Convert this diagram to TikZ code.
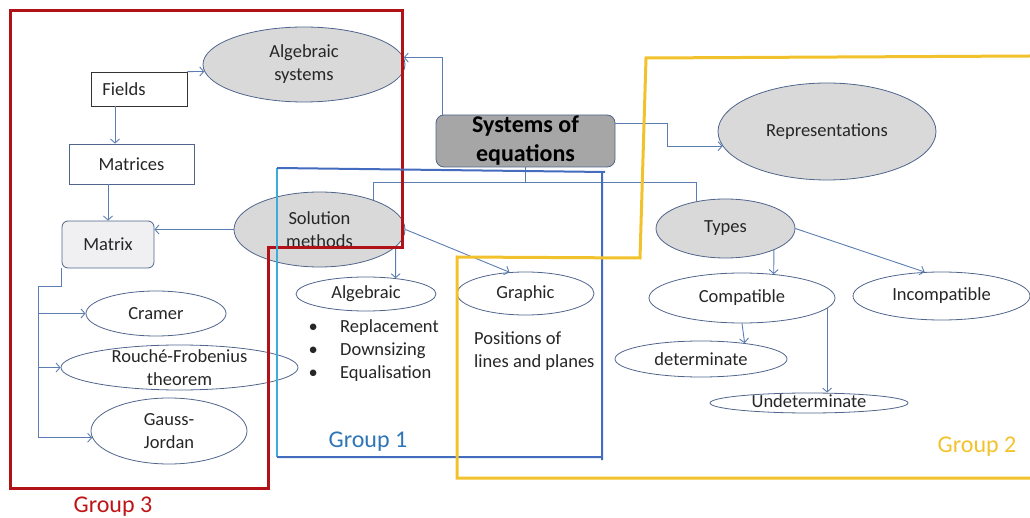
\documentclass[tikz,border=0pt]{standalone}
\usepackage{fontspec}
\setmainfont{Carlito}
\usetikzlibrary{shapes.geometric,arrows.meta}
\definecolor{lnk}{RGB}{91,125,178}
\definecolor{edge}{RGB}{80,100,140}
\definecolor{fillg}{RGB}{217,217,217}
\definecolor{filld}{RGB}{166,166,166}
\definecolor{fillm}{RGB}{240,240,243}
\definecolor{grpred}{RGB}{176,18,24}
\definecolor{grpcyan}{RGB}{60,172,218}
\definecolor{grpblue}{RGB}{68,108,190}
\definecolor{grpyel}{RGB}{242,194,44}
\definecolor{txtred}{RGB}{192,20,20}
\definecolor{txtblue}{RGB}{46,117,182}
\definecolor{txt}{RGB}{38,38,38}
\newcommand{\nodefont}{\fontsize{18.5}{23}\selectfont}
\newcommand{\grpfont}{\fontsize{24}{29}\selectfont}

\begin{document}
\begin{tikzpicture}[x=1pt,y=-1pt,>={Straight Barb[length=4pt,width=9pt]},
  every node/.style={font=\nodefont,text=txt},
  every label/.style={align=center,inner sep=0pt},
  oval/.style={ellipse,draw=edge,line width=0.8pt,inner sep=0pt},
  grayoval/.style={oval,fill=fillg},
  box/.style={rectangle,draw=edge,line width=0.8pt,inner sep=0pt},
  link/.style={draw=lnk,line width=0.9pt},
  frame/.style={line width=3pt}]
   \useasboundingbox (0,0) rectangle (1030,518);
   % group 3 side
   \node[grayoval,minimum width=202,minimum height=75,label={center:Algebraic\\systems}] (algsys) at (304,64.5) {};
   \node[box,draw=black!80,minimum width=96,minimum height=34,label={[xshift=-15]center:Fields}] (fields) at (139,89) {};
   \node[box,minimum width=125,minimum height=40,label={center:Matrices}] (matrices) at (131.5,164) {};
   \node[box,rounded corners=6,fill=fillm,minimum width=92,minimum height=47,label={center:Matrix}] (mtx) at (108,244.5) {};
   \node[grayoval,minimum width=171,minimum height=75,label={center:Solution\\methods}] (solm) at (319.5,229.5) {};
   \node[oval,minimum width=140,minimum height=45,label={center:Cramer}] (cramer) at (156,313.5) {};
   \node[oval,minimum width=237,minimum height=45,label={center:Rouché-Frobenius\\theorem}] (rouche) at (179.5,367.5) {};
   \node[oval,minimum width=156,minimum height=66,label={center:Gauss-\\Jordan}] (gauss) at (169,431) {};
   % centre
   \node[box,rounded corners=8,fill=filld,minimum width=179,minimum height=52,
     label={[font=\grpfont\bfseries,text=black]center:Systems of\\equations}] (sys) at (525.5,141) {};
   \node[oval,minimum width=140,minimum height=34,label={center:Algebraic}] (algebr) at (366,294) {};
   \node[oval,minimum width=137,minimum height=43,label={center:Graphic}] (graphic) at (525.5,293.5) {};
   \node[anchor=west,align=left,inner sep=0pt] (algsteps) at (308.5,351)
     {\makebox[31.5pt][l]{\textbullet}Replacement\\\makebox[31.5pt][l]{\textbullet}Downsizing\\\makebox[31.5pt][l]{\textbullet}Equalisation};
   \node[anchor=west,align=left,inner sep=0pt] (gphtext) at (474,351.5) {Positions of\\lines and planes};
   % group 2 side
   \node[grayoval,minimum width=218,minimum height=97,label={center:Representations}] (rep) at (827,131.5) {};
   \node[grayoval,minimum width=139,minimum height=59,label={center:Types}] (types) at (725.5,228.5) {};
   \node[oval,minimum width=186,minimum height=50,label={center:Compatible}] (compat) at (742,298) {};
   \node[oval,minimum width=177,minimum height=48,label={center:Incompatible}] (incomp) at (941.5,296) {};
   \node[oval,minimum width=172,minimum height=36,label={center:determinate}] (determ) at (701,359) {};
   \node[oval,minimum width=198,minimum height=20,label={[yshift=2]center:Undeterminate}] (undet) at (809,403) {};

   \draw[link,->] (fields.north east) -- (algsys.184);
   \draw[link,->] ([xshift=-24]fields.south) -- ([xshift=-24]fields.south |- matrices.north);
   \draw[link,->] (matrices.south -| mtx.north) -- (mtx.north);
   \draw[link,->] (solm.west) -- (solm.west -| mtx.east);
   \draw[link,->] ([xshift=7]sys.north west) |- (algsys.4);
   \draw[link,->] ([yshift=18]sys.east) -- ++(52,0) |- (rep.188);
   \coordinate (jn) at ([yshift=-15]sys.south);
   \draw[link] (sys.south) -- (jn) (jn) -| (solm.29) (jn) -| (types.137);
   \draw[link,->] (solm.347) -- (algebr.28);
   \draw[link,->] (solm.east) -- (graphic.127);
   \draw[link,->] (types.336) -- (compat.37);
   \draw[link,->] (types.east) -- (incomp.125);
   \draw[link,->] (compat.south) -- (determ.20);
   \draw[link,->] (compat.353) -- (compat.353 |- undet.north);
   \coordinate (bus) at (38,286);
   \draw[link] (mtx.south west) |- (bus) -- (bus |- gauss.185);
   \draw[link,->] (bus |- cramer.west) -- (cramer.west);
   \draw[link,->] (bus |- rouche.west) -- (rouche.west);
   \draw[link,->] (bus |- gauss.185) -- (gauss.185);

   % group frames
   \draw[frame,grpred] (10,11) -- (402,11) -- (402,248) -- (268,248) -- (268,488) -- (10,488) -- cycle;
   \draw[frame,grpcyan,line width=2pt] (277,457) -- (277,168);
   \draw[frame,grpblue,line width=2pt] (277,168) -- (605,172) (602,172) -- (602,460) (602,457) -- (277,457);
   \draw[frame,grpyel] (1030,56) -- (646,58) -- (640,258) -- (457,257) -- (457,478) -- (1030,478);
   \node[font=\grpfont,text=txtred] (grp3) at (113,507) {Group 3};
   \node[font=\grpfont,text=txtblue] (grp1) at (368,442) {Group 1};
   \node[font=\grpfont,text=grpyel] (grp2) at (977,447) {Group 2};
\end{tikzpicture}
\end{document}
